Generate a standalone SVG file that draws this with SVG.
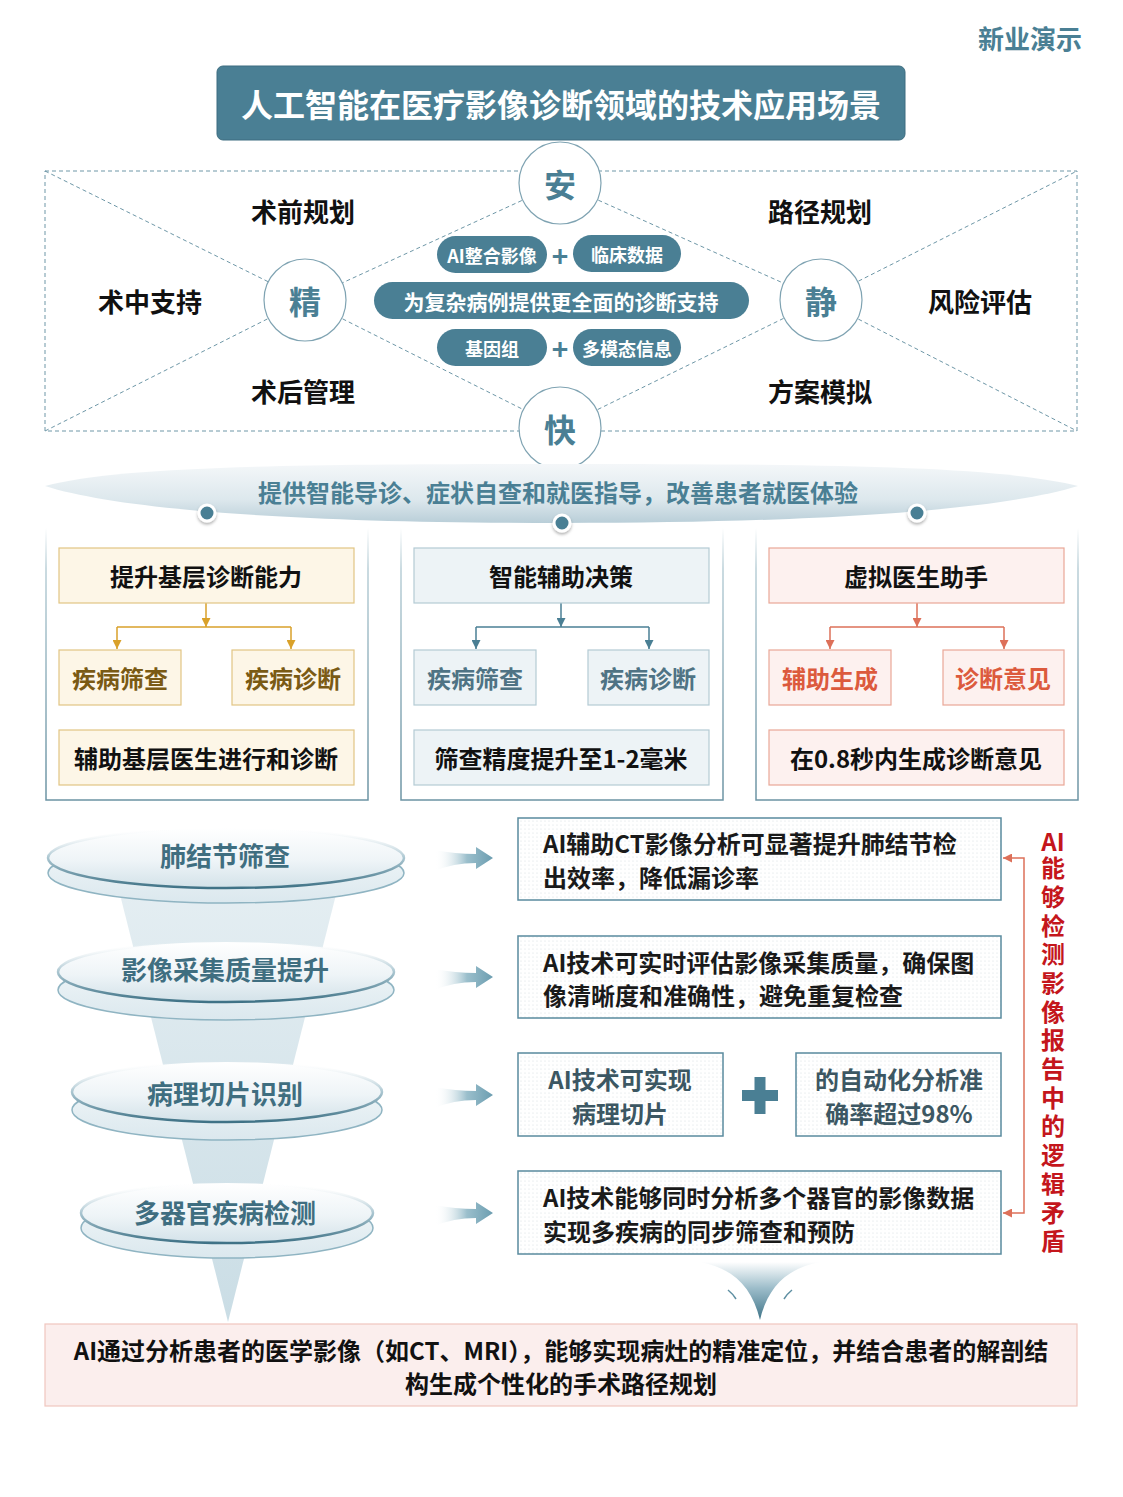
<svg xmlns="http://www.w3.org/2000/svg" width="1123" height="1497" viewBox="0 0 1123 1497">
<defs>
<style>
text{font-family:"Noto Sans CJK SC","Noto Sans",sans-serif;font-weight:700}
.c{text-anchor:middle;dominant-baseline:central}
.l{dominant-baseline:central}
.dash{fill:none;stroke:#6e97a7;stroke-width:1;stroke-dasharray:4 3}
.circ{fill:#fff;stroke:#7fa3b2;stroke-width:1.2}
.circT{font-size:32px;fill:#4a7f94}
.lab{font-size:26px;fill:#111}
.pill{fill:#4a7f94}
.pillT{font-size:18px;fill:#fff}
.plusT{font-size:28px;fill:#4a7f94}
.card{fill:none;stroke:url(#cardStroke);stroke-width:1.5}
.hd{font-size:24px;fill:#111}
.g-box{fill:#fdf6e7;stroke:#e2c584;stroke-width:1.2}
.b-box{fill:#edf3f6;stroke:#b4cbd4;stroke-width:1.2}
.r-box{fill:#fdf1ef;stroke:#e9a797;stroke-width:1.2}
.g-sub{font-size:24px;fill:#7a5a14}
.b-sub{font-size:24px;fill:#4f7384}
.r-sub{font-size:24px;fill:#dc5a3d}
.g-ln{fill:none;stroke:#d9a12a;stroke-width:1.5}
.b-ln{fill:none;stroke:#4a7f94;stroke-width:1.5}
.r-ln{fill:none;stroke:#dd7059;stroke-width:1.5}
.plateT{font-size:26px;fill:#3f6e80}
.rbox{fill:url(#dots);stroke:#5a8b9e;stroke-width:1.5}
.rt{font-size:24px;fill:#1a1a1a}
.rt2{font-size:24px;fill:#3c5763}
.vt{font-size:24px;fill:#c4161c}
</style>
<pattern id="dots" width="4" height="4" patternUnits="userSpaceOnUse"><rect width="4" height="4" fill="#fff"/><circle cx="1" cy="1" r="0.6" fill="#d6dee2"/></pattern>
<linearGradient id="cardStroke" x1="0" y1="0" x2="0" y2="1"><stop offset="0" stop-color="#ffffff"/><stop offset="0.15" stop-color="#b9cfd7"/><stop offset="1" stop-color="#6b93a3"/></linearGradient>
<linearGradient id="banner" x1="0" y1="0" x2="0" y2="1"><stop offset="0" stop-color="#f4f7f9"/><stop offset="0.6" stop-color="#dde8ed"/><stop offset="1" stop-color="#b9ced8"/></linearGradient>
<linearGradient id="funnel" x1="0" y1="0" x2="0" y2="1"><stop offset="0" stop-color="#e6eff3"/><stop offset="1" stop-color="#cadde5"/></linearGradient>
<linearGradient id="plateTop" x1="0" y1="0" x2="0" y2="1"><stop offset="0" stop-color="#ffffff"/><stop offset="0.55" stop-color="#eef4f7"/><stop offset="1" stop-color="#d3e2e9"/></linearGradient>
<linearGradient id="plateStroke" x1="0" y1="0" x2="0" y2="1"><stop offset="0" stop-color="#ffffff" stop-opacity="0"/><stop offset="0.5" stop-color="#a9c5d0"/><stop offset="1" stop-color="#3f7286"/></linearGradient>
<linearGradient id="plateBot" x1="0" y1="0" x2="0" y2="1"><stop offset="0" stop-color="#f2f7f9"/><stop offset="1" stop-color="#dbe8ee"/></linearGradient>
<linearGradient id="arrowG" x1="0" y1="0" x2="1" y2="0"><stop offset="0" stop-color="#ffffff" stop-opacity="0"/><stop offset="0.55" stop-color="#9bbfcc"/><stop offset="1" stop-color="#6b9db0"/></linearGradient>
<linearGradient id="chev" x1="0" y1="0" x2="0" y2="1"><stop offset="0" stop-color="#ffffff"/><stop offset="0.45" stop-color="#9dbdca"/><stop offset="1" stop-color="#3f7488"/></linearGradient>
<filter id="sh" x="-50%" y="-50%" width="200%" height="200%"><feDropShadow dx="0" dy="2" stdDeviation="1.6" flood-color="#000" flood-opacity="0.3"/></filter>
<marker id="mg" viewBox="0 0 10 10" refX="10" refY="5" markerWidth="9" markerHeight="9" orient="auto" markerUnits="userSpaceOnUse"><path d="M0,0 L10,5 L0,10 Z" fill="#d9a12a"/></marker>
<marker id="mb" viewBox="0 0 10 10" refX="10" refY="5" markerWidth="9" markerHeight="9" orient="auto" markerUnits="userSpaceOnUse"><path d="M0,0 L10,5 L0,10 Z" fill="#4a7f94"/></marker>
<marker id="mr" viewBox="0 0 10 10" refX="10" refY="5" markerWidth="9" markerHeight="9" orient="auto-start-reverse" markerUnits="userSpaceOnUse"><path d="M0,0 L10,5 L0,10 Z" fill="#dd7059"/></marker>
<path id="ra" d="M0,-8 Q20,-4 41,-4 L41,-11 L58,0 L41,11 L41,5 Q18,5 0,13 Z"/>
</defs>

<rect width="1123" height="1497" fill="#ffffff"/>

<g id="brand"><text x="1082" y="37" class="l" text-anchor="end" font-size="26" fill="#4a7f94">新业演示</text></g>

<g id="title">
<rect x="217" y="66" width="688" height="74" rx="6" fill="#4a7f94" stroke="#3d6d80" stroke-width="1"/>
<text x="561" y="103" class="c" font-size="32" fill="#fff">人工智能在医疗影像诊断领域的技术应用场景</text>
</g>

<g id="card-panels">
<path d="M46,528 V800 H368 V528" class="card"/>
<path d="M401,528 V800 H723 V528" class="card"/>
<path d="M756,528 V800 H1078 V528" class="card"/>
</g>

<g id="connectors">
<rect x="45" y="171" width="1032" height="260" class="dash"/>
<path class="dash" d="M45,171 L305,300 M45,431 L305,300 M560,183 L305,300 M305,300 L560,428 M560,183 L821,300 M560,428 L821,300 M821,300 L1077,171 M821,300 L1077,431"/>
<path class="g-ln" d="M206,603 V627" marker-end="url(#mg)"/>
<path class="g-ln" d="M117,627 H291"/>
<path class="g-ln" d="M117,627 V649" marker-end="url(#mg)"/>
<path class="g-ln" d="M291,627 V649" marker-end="url(#mg)"/>
<path class="b-ln" d="M561,603 V627" marker-end="url(#mb)"/>
<path class="b-ln" d="M476,627 H649"/>
<path class="b-ln" d="M476,627 V649" marker-end="url(#mb)"/>
<path class="b-ln" d="M649,627 V649" marker-end="url(#mb)"/>
<path class="r-ln" d="M917,603 V627" marker-end="url(#mr)"/>
<path class="r-ln" d="M830,627 H1004"/>
<path class="r-ln" d="M830,627 V649" marker-end="url(#mr)"/>
<path class="r-ln" d="M1004,627 V649" marker-end="url(#mr)"/>
<use href="#ra" x="435" y="858" fill="url(#arrowG)"/>
<use href="#ra" x="435" y="977" fill="url(#arrowG)"/>
<use href="#ra" x="435" y="1095" fill="url(#arrowG)"/>
<use href="#ra" x="435" y="1213" fill="url(#arrowG)"/>
<path class="r-ln" d="M1003,858 H1024 V1213 H1003" marker-start="url(#mr)" marker-end="url(#mr)"/>
</g>

<g id="labels-diamond">
<text x="303" y="210" class="c lab">术前规划</text>
<text x="150" y="300" class="c lab">术中支持</text>
<text x="303" y="390" class="c lab">术后管理</text>
<text x="820" y="210" class="c lab">路径规划</text>
<text x="980" y="300" class="c lab">风险评估</text>
<text x="820" y="390" class="c lab">方案模拟</text>
</g>

<g id="node-an"><circle cx="560" cy="183" r="41" class="circ"/><text x="560" y="183" class="c circT">安</text></g>
<g id="node-jing"><circle cx="305" cy="300" r="41" class="circ"/><text x="305" y="300" class="c circT">精</text></g>
<g id="node-jing2"><circle cx="821" cy="300" r="41" class="circ"/><text x="821" y="300" class="c circT">静</text></g>
<g id="node-kuai"><circle cx="560" cy="428" r="41" class="circ"/><text x="560" y="428" class="c circT">快</text></g>

<g id="pills">
<rect x="437" y="236" width="110" height="37" rx="18.5" class="pill"/><text x="492" y="254.5" class="c pillT">AI整合影像</text>
<text x="560" y="255" class="c plusT">+</text>
<rect x="573" y="235" width="108" height="37" rx="18.5" class="pill"/><text x="627" y="253.5" class="c pillT">临床数据</text>
<rect x="374" y="282" width="375" height="37" rx="18.5" class="pill"/><text x="561" y="300.5" class="c" font-size="21" fill="#fff">为复杂病例提供更全面的诊断支持</text>
<rect x="437" y="329" width="110" height="37" rx="18.5" class="pill"/><text x="492" y="347.5" class="c pillT">基因组</text>
<text x="560" y="348" class="c plusT">+</text>
<rect x="573" y="329" width="108" height="37" rx="18.5" class="pill"/><text x="627" y="347.5" class="c pillT">多模态信息</text>
</g>

<g id="banner">
<path d="M45,486 C120,466 300,464 561,464 C822,464 1000,466 1078,486 C1000,510 822,523 561,523 C300,523 120,510 45,486 Z" fill="url(#banner)"/>
<text x="558" y="491" class="c" font-size="24" fill="#4a7f94">提供智能导诊、症状自查和就医指导，改善患者就医体验</text>
<circle cx="207" cy="513" r="8" fill="#4a7f94" stroke="#fff" stroke-width="3" filter="url(#sh)"/>
<circle cx="562" cy="523" r="8" fill="#4a7f94" stroke="#fff" stroke-width="3" filter="url(#sh)"/>
<circle cx="917" cy="513" r="8" fill="#4a7f94" stroke="#fff" stroke-width="3" filter="url(#sh)"/>
</g>

<g id="card-1">
<rect x="59" y="548" width="295" height="55" class="g-box"/><text x="206" y="575" class="c hd">提升基层诊断能力</text>
<rect x="59" y="650" width="122" height="55" class="g-box"/><text x="120" y="677" class="c g-sub">疾病筛查</text>
<rect x="232" y="650" width="122" height="55" class="g-box"/><text x="293" y="677" class="c g-sub">疾病诊断</text>
<rect x="59" y="730" width="295" height="55" class="g-box"/><text x="206" y="757" class="c hd">辅助基层医生进行和诊断</text>
</g>
<g id="card-2">
<rect x="414" y="548" width="295" height="55" class="b-box"/><text x="561" y="575" class="c hd">智能辅助决策</text>
<rect x="414" y="650" width="122" height="55" class="b-box"/><text x="475" y="677" class="c b-sub">疾病筛查</text>
<rect x="588" y="650" width="121" height="55" class="b-box"/><text x="648" y="677" class="c b-sub">疾病诊断</text>
<rect x="414" y="730" width="295" height="55" class="b-box"/><text x="561" y="757" class="c hd">筛查精度提升至1-2毫米</text>
</g>
<g id="card-3">
<rect x="769" y="548" width="295" height="55" class="r-box"/><text x="916" y="575" class="c hd">虚拟医生助手</text>
<rect x="769" y="650" width="122" height="55" class="r-box"/><text x="830" y="677" class="c r-sub">辅助生成</text>
<rect x="943" y="650" width="121" height="55" class="r-box"/><text x="1003" y="677" class="c r-sub">诊断意见</text>
<rect x="769" y="730" width="295" height="55" class="r-box"/><text x="916" y="757" class="c hd">在0.8秒内生成诊断意见</text>
</g>

<g id="funnel">
<polygon points="110,855 346,855 228,1322" fill="url(#funnel)"/>
</g>

<g id="plate-1">
<ellipse cx="226" cy="873" rx="178" ry="30" fill="url(#plateBot)" stroke="#8fb4c2" stroke-width="1.5"/>
<ellipse cx="226" cy="858" rx="178" ry="30" fill="url(#plateTop)" stroke="url(#plateStroke)" stroke-width="2.5"/>
<text x="225" y="854" class="c plateT">肺结节筛查</text>
</g>
<g id="plate-2">
<ellipse cx="226" cy="990" rx="168" ry="30" fill="url(#plateBot)" stroke="#8fb4c2" stroke-width="1.5"/>
<ellipse cx="226" cy="972" rx="168" ry="30" fill="url(#plateTop)" stroke="url(#plateStroke)" stroke-width="2.5"/>
<text x="225" y="968" class="c plateT">影像采集质量提升</text>
</g>
<g id="plate-3">
<ellipse cx="227" cy="1110" rx="155" ry="30" fill="url(#plateBot)" stroke="#8fb4c2" stroke-width="1.5"/>
<ellipse cx="227" cy="1092" rx="155" ry="30" fill="url(#plateTop)" stroke="url(#plateStroke)" stroke-width="2.5"/>
<text x="225" y="1092" class="c plateT">病理切片识别</text>
</g>
<g id="plate-4">
<ellipse cx="227" cy="1228" rx="146" ry="30" fill="url(#plateBot)" stroke="#8fb4c2" stroke-width="1.5"/>
<ellipse cx="227" cy="1213" rx="146" ry="30" fill="url(#plateTop)" stroke="url(#plateStroke)" stroke-width="2.5"/>
<text x="225" y="1211" class="c plateT">多器官疾病检测</text>
</g>

<g id="box-1">
<rect x="518" y="818" width="483" height="82" class="rbox"/>
<text x="543" y="842" class="l rt">AI辅助CT影像分析可显著提升肺结节检</text>
<text x="543" y="876" class="l rt">出效率，降低漏诊率</text>
</g>
<g id="box-2">
<rect x="518" y="936" width="483" height="82" class="rbox"/>
<text x="543" y="961" class="l rt">AI技术可实时评估影像采集质量，确保图</text>
<text x="543" y="994" class="l rt">像清晰度和准确性，避免重复检查</text>
</g>
<g id="box-3a">
<rect x="518" y="1053" width="205" height="83" class="rbox"/>
<text x="620" y="1078" class="c rt2">AI技术可实现</text>
<text x="620" y="1112" class="c rt2">病理切片</text>
</g>
<g id="plus-3">
<path d="M742,1090 H778 V1101 H742 Z M754.5,1077 H765.5 V1114 H754.5 Z" fill="#4a7f94"/>
</g>
<g id="box-3b">
<rect x="796" y="1053" width="205" height="83" class="rbox"/>
<text x="899" y="1078" class="c rt2">的自动化分析准</text>
<text x="899" y="1112" class="c rt2">确率超过98%</text>
</g>
<g id="box-4">
<rect x="518" y="1171" width="483" height="83" class="rbox"/>
<text x="543" y="1196" class="l rt">AI技术能够同时分析多个器官的影像数据</text>
<text x="543" y="1230" class="l rt">实现多疾病的同步筛查和预防</text>
</g>

<g id="side-label">
<text x="1053" y="840" class="c vt">AI</text>
<text x="1053" y="856" class="vt" writing-mode="vertical-rl" style="letter-spacing:4.7px">能够检测影像报告中的逻辑矛盾</text>
</g>

<g id="chevron">
<path d="M700,1262 C732,1268 752,1286 760,1320 C768,1286 788,1268 820,1262 Z" fill="url(#chev)"/>
<path d="M722,1279 Q736,1287 744,1301 M796,1279 Q784,1287 776,1301" fill="none" stroke="#fff" stroke-width="2.5"/>
<path d="M728,1290 Q733,1294 736,1299 M792,1290 Q787,1294 784,1299" fill="none" stroke="#5e8fa2" stroke-width="1.5"/>
</g>

<g id="conclusion">
<rect x="45" y="1324" width="1032" height="82" fill="#fbeeed" stroke="#f0c6be" stroke-width="1.2"/>
<text x="561" y="1349" class="c" font-size="24" fill="#111">AI通过分析患者的医学影像（如CT、MRI），能够实现病灶的精准定位，并结合患者的解剖结</text>
<text x="561" y="1382" class="c" font-size="24" fill="#111">构生成个性化的手术路径规划</text>
</g>
</svg>
